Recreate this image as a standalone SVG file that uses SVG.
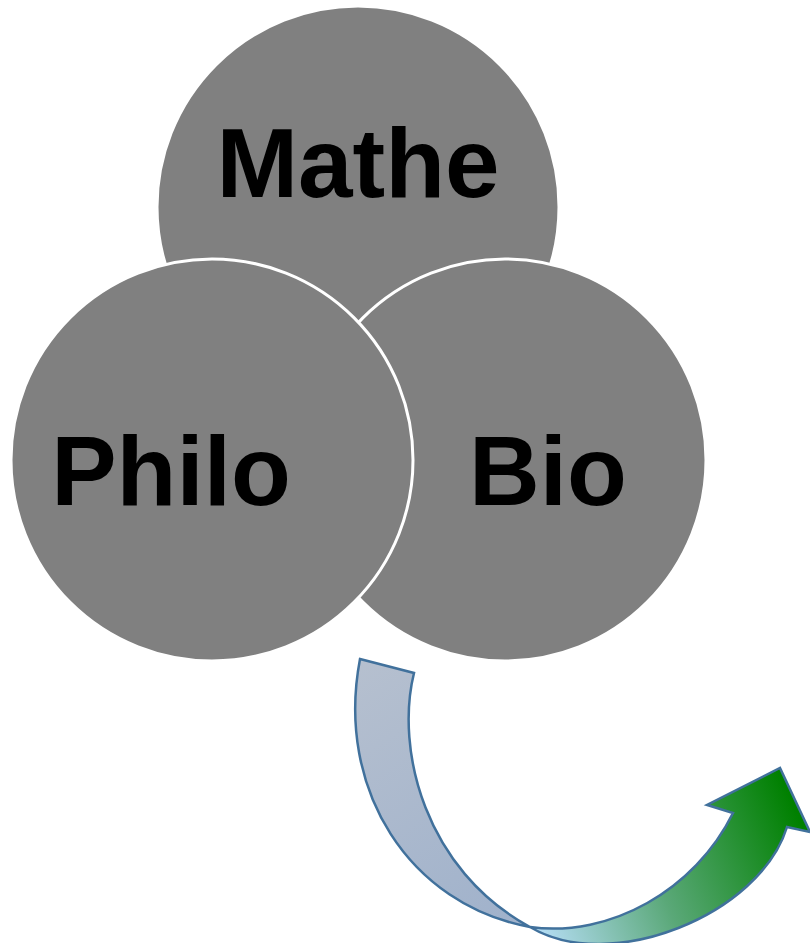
<svg xmlns="http://www.w3.org/2000/svg" width="810" height="943" viewBox="0 0 810 943">
<defs>
<style>
.c{fill:#808080;stroke:#ffffff;stroke-width:3}
.t{font-family:"Liberation Sans",Arial,sans-serif;font-weight:bold;font-size:98px;fill:#000;text-anchor:middle}
.a{stroke:#41719c;stroke-width:2.5;stroke-linejoin:miter}
</style>
<linearGradient id="gb" gradientUnits="userSpaceOnUse" x1="350" y1="660" x2="530" y2="930">
<stop offset="0" stop-color="#b6c0cf"/>
<stop offset="1" stop-color="#9fb1cb"/>
</linearGradient>
<linearGradient id="gg" gradientUnits="userSpaceOnUse" x1="540" y1="930" x2="800" y2="820">
<stop offset="0" stop-color="#b3dcf2"/>
<stop offset="0.45" stop-color="#5aa878"/>
<stop offset="1" stop-color="#008000"/>
</linearGradient>
</defs>
<g id="mathe">
<circle class="c" cx="358" cy="207" r="201" stroke="none"/>
<text class="t" x="358" y="197">Mathe</text>
</g>
<g id="bio">
<circle class="c" cx="505" cy="460" r="201"/>
<text class="t" x="548" y="505">Bio</text>
</g>
<g id="philo">
<circle class="c" cx="212" cy="460" r="201"/>
<text class="t" x="171" y="505">Philo</text>
</g>
<g id="connectors">
<path class="a" fill="url(#gb)" d="M360,659 L414,673 C395,750 425,870 530,927 C410,905 335,790 360,659 Z"/>
<path class="a" fill="url(#gg)" d="M530,927 C610,938 695,890 733,813 L707,805 L780,768 L810,832 L787,827 C760,915 610,975 530,927 Z"/>
</g>
</svg>
